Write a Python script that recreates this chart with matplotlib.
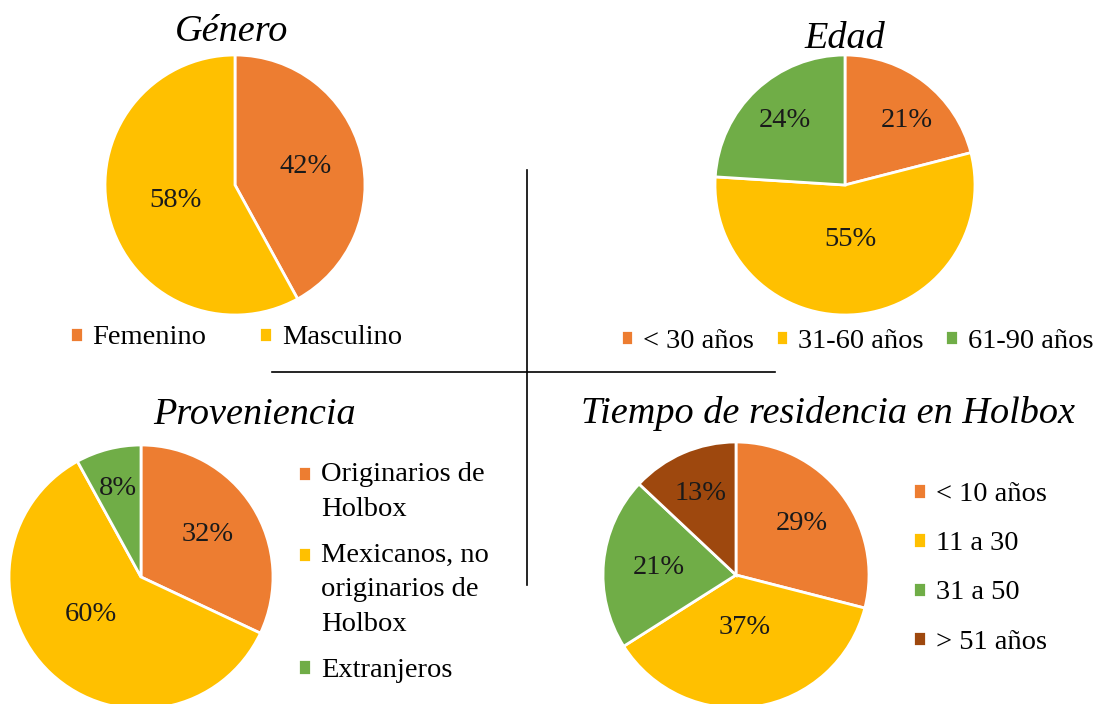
import math
import matplotlib.pyplot as plt

# Data for the four pies
genero_labels = ['Femenino', 'Masculino']
genero_values = [42, 58]

edad_labels = ['< 30 años', '31-60 años', '61-90 años']
edad_values = [21, 55, 24]

proven_labels = ['Originarios de\nHolbox', 'Mexicanos, no\noriginarios de\nHolbox', 'Extranjeros']
proven_values = [32, 60, 8]

tiempo_labels = ['< 10 años', '11 a 30', '31 a 50', '> 51 años']
tiempo_values = [29, 37, 21, 13]

orange = '#ED7D31'
yellow = '#FFC000'
green = '#70AD47'
brown = '#9E480E'

W, H = 1099, 704
plt.rcParams['font.family'] = ['Liberation Serif', 'DejaVu Serif']

fig = plt.figure(figsize=(W / 100, H / 100), dpi=100)


def pie_at(cx, cy, r, values, colors, label_dist, label_turn):
    # axes placed by pixel centre and radius
    ax = fig.add_axes([(cx - r) / W, (H - cy - r) / H, 2 * r / W, 2 * r / H])
    wedges, texts, autotexts = ax.pie(values, colors=colors, startangle=90, counterclock=False,
                                      autopct='%1.0f%%', pctdistance=0.55,
                                      wedgeprops=dict(edgecolor='white', linewidth=2),
                                      textprops=dict(fontsize=20.5, color='#1a1a1a'))
    # move labels to Excel-like spots (distance from centre, small turn in degrees)
    for t, d, turn in zip(autotexts, label_dist, label_turn):
        x, y = t.get_position()
        a = math.atan2(y, x) + math.radians(turn)
        t.set_position((d * math.cos(a), d * math.sin(a)))
    ax.set_xlim(-1, 1)
    ax.set_ylim(-1, 1)
    ax.set_aspect('equal')
    ax.axis('off')
    return wedges


def fx(x):
    return x / W


def fy(y):
    return 1 - y / H


w1 = pie_at(235, 185, 130, genero_values, [orange, yellow], [0.56, 0.47], [0, 0])
w2 = pie_at(845, 185, 130, edad_values, [orange, yellow, green], [0.69, 0.42, 0.68], [-6, 0, 0])
w3 = pie_at(141, 577, 132, proven_values, [orange, yellow, green], [0.6, 0.47, 0.69], [0, -10, 0])
w4 = pie_at(736, 575, 133, tiempo_values, [orange, yellow, green, brown], [0.63, 0.4, 0.58, 0.67], [0, 0, 0, 0])

# Titles
title_kw = dict(fontsize=27.5, style='italic', ha='center', va='center')
fig.text(fx(232), fy(32), 'Género', **title_kw)
fig.text(fx(845), fy(39), 'Edad', **title_kw)
fig.text(fx(255), fy(415), 'Proveniencia', **title_kw)
fig.text(fx(828), fy(414), 'Tiempo de residencia en Holbox', **title_kw)

leg_kw = dict(frameon=False, fontsize=20.5, handlelength=0.45, handleheight=0.45,
              handletextpad=0.35, borderpad=0, borderaxespad=0)

fig.legend(w1, genero_labels, loc='center', bbox_to_anchor=(fx(236), fy(338)),
           ncol=2, columnspacing=1.85, **leg_kw)
fig.legend(w2, edad_labels, loc='center', bbox_to_anchor=(fx(857), fy(341)),
           ncol=3, columnspacing=0.75, **leg_kw)

# Proveniencia legend: square sits on the first line of each entry
line_pt = 25.0
leg3 = fig.legend(w3, proven_labels, loc='upper left', bbox_to_anchor=(fx(298), fy(462)),
                  labelspacing=0.75, **leg_kw)
for t, h in zip(leg3.get_texts(), leg3.legend_handles):
    t.set_linespacing(1.5)
    n = t.get_text().count('\n')
    h.set_y(h.get_y() + n * line_pt / 2)

fig.legend(w4, tiempo_labels, loc='upper left', bbox_to_anchor=(fx(913), fy(482)),
           labelspacing=0.85, **leg_kw)

# Divider lines
fig.add_artist(plt.Line2D([fx(527), fx(527)], [fy(170), fy(585)], color='black', linewidth=1.2))
fig.add_artist(plt.Line2D([fx(272), fx(775)], [fy(372), fy(372)], color='black', linewidth=1.2))

fig.savefig('out.png', dpi=100)
